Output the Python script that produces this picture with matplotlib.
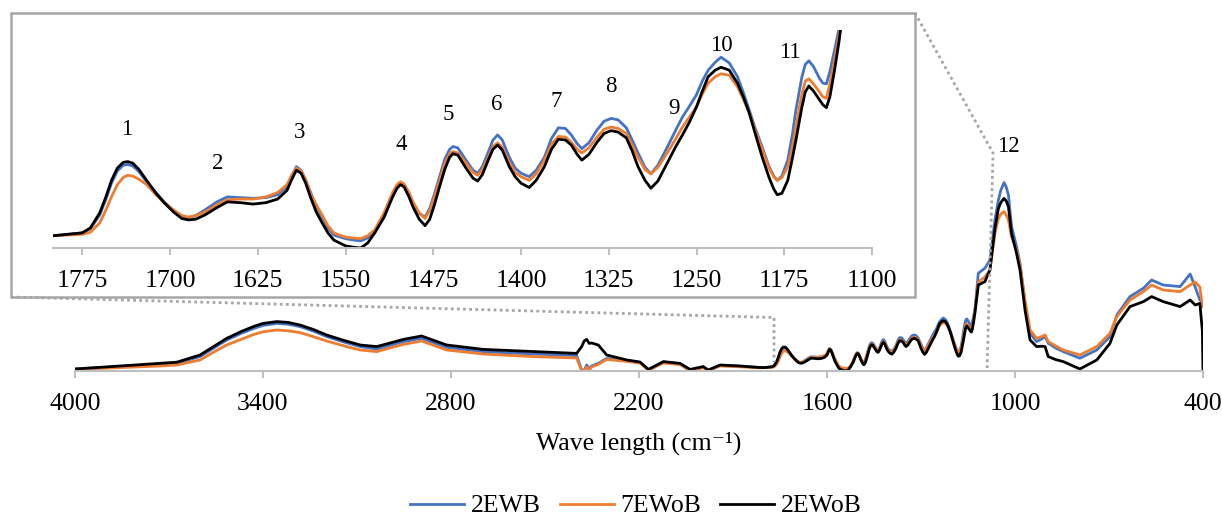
import matplotlib
matplotlib.use("Agg")
import matplotlib.pyplot as plt
from matplotlib.patches import Rectangle
from matplotlib.lines import Line2D

plt.rcParams['font.family'] = ['Liberation Serif', 'DejaVu Serif']

# wavenumbers (cm-1), split in three stretches
wave_left = [4000, 3729, 3675, 3601, 3560, 3516, 3470, 3431, 3400, 3356,
             3320, 3282, 3240, 3197, 3140, 3090, 3037, 2952, 2894, 2814,
             2697, 2537, 2399, 2383, 2375, 2367, 2359, 2351, 2330, 2303,
             2239, 2197, 2170, 2122, 2069, 2037, 1995, 1979, 1941, 1878,
             1820, 1800]
wave_zoom = [1775, 1768, 1760, 1755, 1750, 1745, 1740, 1736, 1732, 1727,
             1720, 1712, 1705, 1697, 1690, 1684, 1678, 1670, 1660, 1651,
             1640, 1629, 1618, 1608, 1600, 1596, 1592, 1588, 1584, 1580,
             1575, 1570, 1565, 1560, 1550, 1543, 1537, 1531, 1525, 1517,
             1510, 1506, 1503, 1500, 1496, 1492, 1487, 1482, 1478, 1474,
             1470, 1465, 1461, 1458, 1454, 1447, 1441, 1437, 1433, 1428,
             1424, 1420, 1416, 1410, 1405, 1400, 1393, 1387, 1380, 1374,
             1368, 1362, 1357, 1352, 1348, 1342, 1335, 1329, 1323, 1317,
             1310, 1305, 1300, 1294, 1289, 1283, 1275, 1268, 1262, 1256,
             1250, 1245, 1240, 1234, 1229, 1222, 1215, 1210, 1205, 1200,
             1194, 1188, 1184, 1181, 1177, 1172, 1168, 1165, 1160, 1157,
             1154, 1150, 1145, 1142, 1139, 1136, 1132, 1128]
wave_right = [1117, 1096, 1080, 1064, 1053, 1045, 1035, 1028, 1021, 1011,
              995, 984, 968, 952, 931, 915, 904, 894, 870, 846,
              793, 739, 697, 675, 633, 590, 564, 527, 473, 441,
              425, 410, 402, 400]

# absorbance (a.u.)
ewb2_left = [.010, .033, .038, .072, .112, .155, .188, .212, .228, .238,
             .234, .222, .200, .172, .144, .122, .110, .147, .163, .118,
             .097, .085, .077, .005, .003, .030, .012, .025, .038, .063,
             .052, .043, .006, .045, .036, .000, .020, .003, .028, .024,
             .018, .017]
ewb2_zoom = [.021, .027, .046, .067, .090, .107, .115, .116, .114, .107,
             .092, .077, .064, .052, .044, .042, .045, .053, .064, .071,
             .070, .069, .070, .074, .085, .100, .113, .108, .094, .078,
             .058, .043, .028, .018, .013, .011, .010, .014, .022, .043,
             .072, .086, .091, .088, .076, .060, .048, .043, .055, .075,
             .097, .124, .137, .141, .139, .122, .108, .104, .113, .133,
             .150, .157, .150, .126, .111, .104, .099, .108, .126, .152,
             .167, .166, .157, .145, .138, .146, .164, .176, .180, .178,
             .167, .150, .132, .112, .103, .115, .140, .163, .182, .197,
             .213, .232, .247, .258, .265, .257, .238, .216, .192, .167,
             .141, .113, .100, .094, .100, .122, .158, .192, .237, .255,
             .260, .252, .236, .229, .228, .245, .275, .306]
ewb2_right = [.489, .514, .555, .755, .855, .905, .942, .920, .880, .722,
              .622, .539, .339, .189, .147, .160, .172, .139, .115, .097,
              .064, .105, .172, .280, .372, .414, .455, .430, .422, .485,
              .420, .355, .345, .340]

ewob7_left = [.008, .025, .030, .055, .092, .130, .158, .182, .196, .205,
              .201, .192, .172, .150, .125, .105, .097, .133, .150, .105,
              .085, .072, .065, .000, .000, .020, .005, .020, .033, .058,
              .048, .040, .004, .040, .032, .003, .017, .002, .025, .021,
              .016, .017]
ewob7_zoom = [.019, .022, .035, .052, .071, .088, .098, .101, .100, .096,
              .088, .074, .063, .053, .045, .043, .045, .050, .060, .067,
              .068, .068, .071, .077, .088, .101, .111, .107, .095, .076,
              .060, .046, .031, .021, .015, .014, .013, .017, .025, .049,
              .076, .088, .092, .089, .078, .063, .049, .041, .052, .071,
              .092, .118, .131, .134, .132, .118, .105, .101, .109, .126,
              .141, .146, .140, .119, .105, .099, .094, .103, .122, .144,
              .155, .154, .147, .137, .132, .139, .154, .165, .168, .166,
              .159, .143, .126, .109, .103, .112, .132, .151, .168, .182,
              .196, .214, .229, .238, .242, .240, .224, .207, .188, .164,
              .138, .111, .099, .094, .098, .113, .140, .168, .213, .232,
              .235, .228, .217, .210, .208, .228, .261, .297]
ewob7_right = [.445, .470, .505, .688, .763, .785, .797, .780, .755, .670,
               .605, .530, .355, .205, .163, .172, .180, .147, .125, .105,
               .080, .122, .188, .272, .355, .397, .430, .405, .397, .430,
               .445, .420, .322, .320]

ewob2_left = [.010, .038, .044, .080, .120, .163, .197, .222, .238, .247,
              .243, .230, .208, .180, .152, .130, .122, .158, .175, .130,
              .108, .097, .088, .122, .150, .158, .138, .140, .130, .080,
              .055, .045, .008, .047, .038, .008, .022, .005, .030, .025,
              .018, .017]
ewob2_zoom = [.021, .028, .049, .070, .094, .111, .119, .120, .118, .110,
              .094, .076, .063, .050, .041, .039, .040, .046, .056, .064,
              .063, .061, .063, .068, .080, .095, .108, .104, .090, .071,
              .050, .035, .021, .011, .003, .001, .000, .007, .021, .043,
              .070, .083, .088, .085, .072, .056, .040, .031, .040, .060,
              .083, .110, .126, .131, .129, .111, .097, .093, .102, .122,
              .137, .143, .136, .113, .099, .090, .084, .094, .113, .137,
              .151, .150, .143, .130, .122, .130, .147, .159, .163, .161,
              .153, .135, .113, .094, .083, .093, .118, .140, .157, .175,
              .196, .218, .238, .247, .251, .247, .229, .210, .188, .160,
              .127, .098, .082, .074, .076, .094, .125, .150, .195, .217,
              .225, .218, .206, .199, .195, .210, .247, .289]
ewob2_right = [.430, .447, .505, .713, .813, .843, .863, .850, .822, .688,
               .588, .505, .305, .155, .122, .124, .122, .072, .057, .047,
               .010, .055, .138, .230, .322, .347, .372, .347, .322, .355,
               .330, .338, .200, .000]

wave = wave_left + wave_zoom + wave_right
series = [("2EWB", ewb2_left + ewb2_zoom + ewb2_right, "#4472C4"),
          ("7EWoB", ewob7_left + ewob7_zoom + ewob7_right, "#ED7D31"),
          ("2EWoB", ewob2_left + ewob2_zoom + ewob2_right, "#000000")]

main_ticks = [4000, 3400, 2800, 2200, 1600, 1000, 400]
inset_ticks = [1775, 1700, 1625, 1550, 1475, 1400, 1325, 1250, 1175, 1100]

# peak numbers: (label, wavenumber, height)
peak_labels = [("1", 1737, .164), ("2", 1659, .117), ("3", 1589, .160), ("4", 1502, .144),
               ("5", 1462, .185), ("6", 1421, .200), ("7", 1370, .204), ("8", 1323, .224),
               ("9", 1269, .194), ("10", 1229, .281), ("11", 1170, .272)]

W, H = 1222, 516
fig = plt.figure(figsize=(W / 100, H / 100), dpi=100)
gray = "#bfbfbf"
fs = 18.5


def style_axis(a):
    for s in ("left", "right", "top"):
        a.spines[s].set_visible(False)
    a.spines["bottom"].set_color(gray)
    a.spines["bottom"].set_linewidth(1.5)
    a.set_yticks([])
    a.tick_params(axis="x", direction="out", length=5, width=1.5, color=gray,
                  labelsize=fs, pad=11)


# main chart
ax = fig.add_axes([75 / W, 145 / H, 1128 / W, 221 / H], zorder=0)
ax.set_facecolor("none")
handles = []
for name, vals, col in series:
    ln, = ax.plot(wave, vals, color=col, lw=2.0, label=name, solid_joinstyle="round")
    handles.append(ln)
ax.set_xlim(4000, 400)
ax.set_ylim(0, 1.105)
ax.set_xticks(main_ticks)
style_axis(ax)
ax.set_xlabel("Wave length (cm\u207b\u00b9)", fontsize=fs, labelpad=12)
ax.text(1022, 1.125, "12", fontsize=16.5, ha="center", va="center")

# inset frame
box = Rectangle((11 / W, 1 - 297 / H), 904 / W, 284 / H, transform=fig.transFigure,
                facecolor="white", edgecolor="#a6a6a6", lw=1.8, zorder=1)
fig.add_artist(box)

# zoom connector lines
to_fig = fig.transFigure.inverted()


def data_pt(x, y):
    return to_fig.transform(ax.transData.transform((x, y)))


pa = [(11 / W, 1 - 297 / H), data_pt(1769, 0.2675), data_pt(1769, 0.045)]
pb = [(915 / W, 1 - 13 / H), data_pt(1070, 1.09), data_pt(1089, 0.015)]
for pts in (pa, pb):
    fig.add_artist(Line2D([p[0] for p in pts], [p[1] for p in pts], transform=fig.transFigure,
                          color="#a6a6a6", lw=2.0, linestyle=(0, (1, 1.2)), zorder=1.5))

# inset chart
axin = fig.add_axes([53 / W, (H - 248) / H, 819 / W, 218 / H], zorder=2)
axin.set_facecolor("none")
for name, vals, col in series:
    axin.plot(wave, vals, color=col, lw=2.0, solid_joinstyle="round")
axin.set_xlim(1800, 1100)
axin.set_ylim(0, 0.3028)
axin.set_xticks(inset_ticks)
style_axis(axin)
for lab, x, y in peak_labels:
    axin.text(x, y, lab, fontsize=16.5, ha="center", va="center")

fig.legend(handles, [s[0] for s in series], loc="center", bbox_to_anchor=(636 / W, 1 - 506 / H),
           ncol=3, frameon=False, fontsize=fs, handlelength=2.1, handletextpad=0.25,
           columnspacing=0.75)

fig.savefig("out.png", dpi=100)
